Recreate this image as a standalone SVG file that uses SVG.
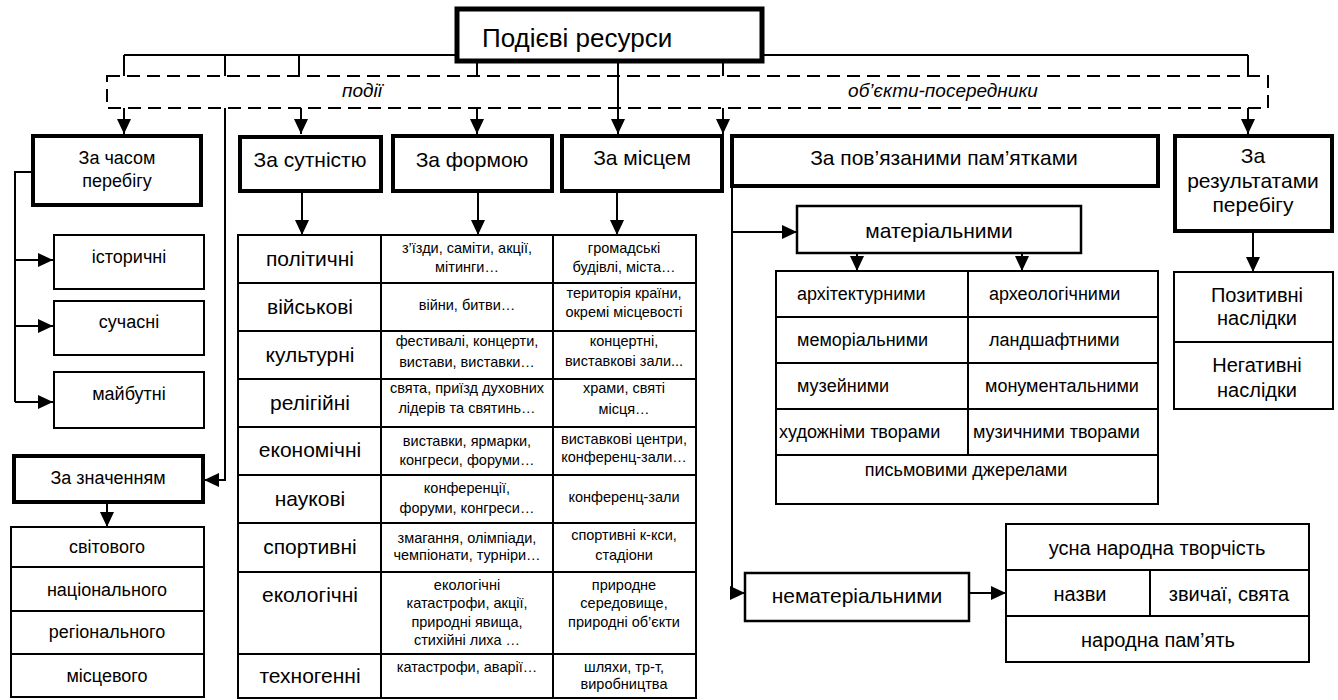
<svg xmlns="http://www.w3.org/2000/svg" width="1338" height="700" viewBox="0 0 1338 700">
<style>
.thick{fill:#fff;stroke:#000;stroke-width:4}
.top{fill:#fff;stroke:#000;stroke-width:5}
.thin{fill:#fff;stroke:#000;stroke-width:2}
.mid{fill:#fff;stroke:#000;stroke-width:2.5}
.ln{fill:none;stroke:#000;stroke-width:2}
.dash{fill:none;stroke:#000;stroke-width:2;stroke-dasharray:13 7}
text{font-family:"Liberation Sans",Arial,sans-serif;fill:#000;text-anchor:middle}
.f21{font-size:21px}
.f18{font-size:18px}
.f20{font-size:20px}
.f14{font-size:14.5px}
.it{font-size:19px;font-style:italic}
.st{text-anchor:start}
</style>
<defs>
<marker id="ar" markerUnits="userSpaceOnUse" markerWidth="15" markerHeight="14" refX="15" refY="7" orient="auto">
<path d="M0,0 L15,7 L0,14 z" fill="#000"/>
</marker>
</defs>
<rect width="1338" height="700" fill="#fff"/>

<g id="connectors">
<path class="ln" d="M124,55 H1248"/>
<path class="ln" d="M124,55 V76 M225,55 V76 M299,55 V76 M477,63 V76 M723,63 V76 M1248,55 V76"/>
<path class="ln" d="M124,108 V134" marker-end="url(#ar)"/>
<path class="ln" d="M301,108 V134" marker-end="url(#ar)"/>
<path class="ln" d="M477,108 V134" marker-end="url(#ar)"/>
<path class="ln" d="M618,63 V134" marker-end="url(#ar)"/>
<path class="ln" d="M723,108 V134" marker-end="url(#ar)"/>
<path class="ln" d="M1248,108 V134" marker-end="url(#ar)"/>
<path class="ln" d="M31,172 H15 V402"/>
<path class="ln" d="M15,260 H53" marker-end="url(#ar)"/>
<path class="ln" d="M15,326 H53" marker-end="url(#ar)"/>
<path class="ln" d="M15,402 H53" marker-end="url(#ar)"/>
<path class="ln" d="M225,108 V480 H204" marker-end="url(#ar)"/>
<path class="ln" d="M107,503 V527" marker-end="url(#ar)"/>
<path class="ln" d="M302,192 V235" marker-end="url(#ar)"/>
<path class="ln" d="M478,192 V235" marker-end="url(#ar)"/>
<path class="ln" d="M617,192 V235" marker-end="url(#ar)"/>
<path class="ln" d="M732,187 V593"/>
<path class="ln" d="M732,232 H797" marker-end="url(#ar)"/>
<path class="ln" d="M732,593 H745" marker-end="url(#ar)"/>
<path class="ln" d="M969,593 H1006" marker-end="url(#ar)"/>
<path class="ln" d="M857,253 V271" marker-end="url(#ar)"/>
<path class="ln" d="M1022,253 V271" marker-end="url(#ar)"/>
<path class="ln" d="M1253,232 V272" marker-end="url(#ar)"/>
</g>

<g id="band">
<rect class="dash" x="107" y="76" width="1161" height="32"/>
<text class="it" x="362" y="97">події</text>
<text class="it" x="943" y="97">об’єкти-посередники</text>
</g>

<g id="root">
<rect class="top" x="457" y="9" width="305" height="52"/>
<text class="st" x="482" y="47" style="font-size:26px">Подієві ресурси</text>
</g>

<g id="time">
<rect class="thick" x="33" y="136" width="168" height="69"/>
<text class="f18" x="117" y="164">За часом</text>
<text class="f18" x="117" y="187">перебігу</text>
</g>
<g id="time-hist"><rect class="thin" x="54" y="235" width="150" height="54"/><text class="f18" x="129" y="263">історичні</text></g>
<g id="time-now"><rect class="thin" x="54" y="301" width="150" height="54"/><text class="f18" x="129" y="328">сучасні</text></g>
<g id="time-future"><rect class="thin" x="54" y="372" width="150" height="56"/><text class="f18" x="129" y="400">майбутні</text></g>

<g id="significance">
<rect class="thick" x="14" y="456" width="189" height="46"/>
<text class="f18" x="108" y="484">За значенням</text>
</g>
<g id="significance-list">
<rect class="thin" x="11" y="527" width="193" height="170"/>
<path class="ln" d="M11,567 H204 M11,611 H204 M11,654 H204"/>
<text class="f18" x="107" y="553">світового</text>
<text class="f18" x="107" y="596">національного</text>
<text class="f18" x="107" y="638">регіонального</text>
<text class="f18" x="107" y="682">місцевого</text>
</g>

<g id="essence"><rect class="thick" x="240" y="137" width="141" height="54"/><text class="f21" x="310" y="167">За сутністю</text></g>
<g id="form"><rect class="thick" x="393" y="136" width="159" height="55"/><text class="f21" x="472" y="167">За формою</text></g>
<g id="place"><rect class="thick" x="562" y="136" width="160" height="55"/><text class="f21" x="642" y="165">За місцем</text></g>
<g id="monuments"><rect class="thick" x="732" y="136" width="426" height="50"/><text class="f21" x="944" y="165">За пов’язаними пам’ятками</text></g>
<g id="results">
<rect class="thick" x="1175" y="136" width="157" height="95"/>
<text class="f21" x="1253" y="163">За</text>
<text class="f21" x="1253" y="188">результатами</text>
<text class="f21" x="1253" y="212">перебігу</text>
</g>
<g id="results-list">
<rect class="thin" x="1174" y="272" width="159" height="137"/>
<path class="ln" d="M1174,342 H1333"/>
<text class="f20" x="1257" y="302">Позитивні</text>
<text class="f20" x="1257" y="325">наслідки</text>
<text class="f20" x="1257" y="372">Негативні</text>
<text class="f20" x="1257" y="397">наслідки</text>
</g>

<g id="events-table">
<rect class="thin" x="238" y="235" width="458" height="463"/>
<path class="ln" d="M238,283 H696 M238,331 H696 M238,379 H696 M238,427 H696 M238,475 H696 M238,523 H696 M238,572 H696 M238,654 H696 M381,235 V698 M553,235 V698"/>
<g>
<text class="f21" x="310" y="266">політичні</text>
<text class="f21" x="310" y="314">військові</text>
<text class="f21" x="310" y="362">культурні</text>
<text class="f21" x="310" y="410">релігійні</text>
<text class="f21" x="310" y="457">економічні</text>
<text class="f21" x="310" y="506">наукові</text>
<text class="f21" x="310" y="554">спортивні</text>
<text class="f21" x="310" y="602">екологічні</text>
<text class="f21" x="310" y="683">техногенні</text>
</g>
<g>
<text class="f14" x="467" y="253">з’їзди, саміти, акції,</text>
<text class="f14" x="467" y="272">мітинги…</text>
<text class="f14" x="467" y="310">війни, битви…</text>
<text class="f14" x="467" y="346">фестивалі, концерти,</text>
<text class="f14" x="467" y="367">вистави, виставки…</text>
<text class="f14" x="467" y="393">свята, приїзд духовних</text>
<text class="f14" x="467" y="413">лідерів та святинь…</text>
<text class="f14" x="467" y="446">виставки, ярмарки,</text>
<text class="f14" x="467" y="465">конгреси, форуми…</text>
<text class="f14" x="467" y="493">конференції,</text>
<text class="f14" x="467" y="513">форуми, конгреси…</text>
<text class="f14" x="467" y="543">змагання, олімпіади,</text>
<text class="f14" x="467" y="560">чемпіонати, турніри…</text>
<text class="f14" x="467" y="590">екологічні</text>
<text class="f14" x="467" y="608">катастрофи, акції,</text>
<text class="f14" x="467" y="627">природні явища,</text>
<text class="f14" x="467" y="645">стихійні лиха …</text>
<text class="f14" x="467" y="672">катастрофи, аварії…</text>
</g>
<g>
<text class="f14" x="624" y="253">громадські</text>
<text class="f14" x="624" y="272">будівлі, міста…</text>
<text class="f14" x="624" y="298">територія країни,</text>
<text class="f14" x="624" y="317">окремі місцевості</text>
<text class="f14" x="624" y="346">концертні,</text>
<text class="f14" x="624" y="366">виставкові зали...</text>
<text class="f14" x="624" y="393">храми, святі</text>
<text class="f14" x="624" y="414">місця…</text>
<text class="f14" x="624" y="444">виставкові центри,</text>
<text class="f14" x="624" y="462">конференц-зали…</text>
<text class="f14" x="624" y="502">конференц-зали</text>
<text class="f14" x="624" y="540">спортивні к-кси,</text>
<text class="f14" x="624" y="560">стадіони</text>
<text class="f14" x="624" y="590">природне</text>
<text class="f14" x="624" y="608">середовище,</text>
<text class="f14" x="624" y="627">природні об’єкти</text>
<text class="f14" x="624" y="672">шляхи, тр-т,</text>
<text class="f14" x="624" y="689">виробництва</text>
</g>
</g>

<g id="material">
<rect class="mid" x="797" y="206" width="284" height="47"/>
<text class="f21" x="939" y="238">матеріальними</text>
</g>
<g id="material-table">
<rect class="thin" x="776" y="271" width="382" height="233"/>
<path class="ln" d="M776,317 H1158 M776,363 H1158 M776,409 H1158 M776,455 H1158 M968,271 V455"/>
<text class="f18 st" x="797" y="300">архітектурними</text>
<text class="f18 st" x="797" y="346">меморіальними</text>
<text class="f18 st" x="797" y="392">музейними</text>
<text class="f18 st" x="779" y="438">художніми творами</text>
<text class="f18 st" x="989" y="300">археологічними</text>
<text class="f18 st" x="989" y="346">ландшафтними</text>
<text class="f18 st" x="985" y="392">монументальними</text>
<text class="f18 st" x="973" y="438">музичними творами</text>
<text class="f18" x="966" y="476">письмовими джерелами</text>
</g>

<g id="intangible">
<rect class="mid" x="745" y="573" width="224" height="48"/>
<text class="f21" x="857" y="603">нематеріальними</text>
</g>
<g id="intangible-table">
<rect class="thin" x="1006" y="524" width="303" height="138"/>
<path class="ln" d="M1006,570 H1309 M1006,616 H1309 M1150,570 V616"/>
<text class="f20" x="1157" y="555">усна народна творчість</text>
<text class="f20" x="1080" y="601">назви</text>
<text class="f20" x="1229" y="601">звичаї, свята</text>
<text class="f20" x="1158" y="647">народна пам’ять</text>
</g>
</svg>
